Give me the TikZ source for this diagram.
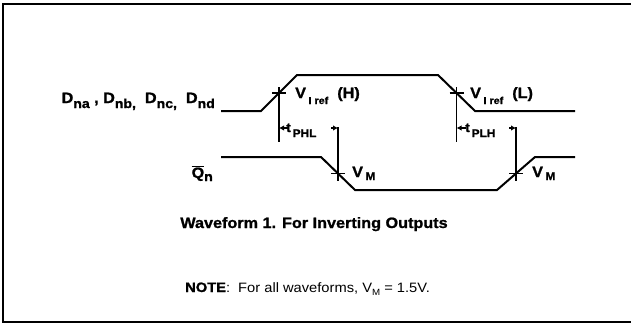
\documentclass[tikz,border=0pt]{standalone}
\usepackage{fontspec}
\setmainfont[FakeStretch=1.08, BoldFeatures={FakeBold=1.2}]{Liberation Sans}
\usetikzlibrary{arrows.meta,calc}
\newcommand\lsub[3]{\raisebox{-#2pt}{\fontsize{#1}{#1}\selectfont #3}}
\begin{document}
\begin{tikzpicture}[x=1pt,y=-1pt,
  wave/.style={line width=2pt, line join=miter},
  xmark/.style={line width=1.6pt},
  framel/.style={line width=1.5pt},
  big/.style={font=\bfseries\fontsize{15}{15}\selectfont, inner sep=0pt},
  tarrow/.style={line width=1.3pt, -{Latex[length=5pt,width=5.5pt]}}]
\useasboundingbox (0,0) rectangle (631,324);
% frame
\coordinate (fa) at (633,4);
\coordinate (fb) at (3,4);
\coordinate (fc) at (3,322);
\coordinate (fd) at (633,322);
\draw[framel] (fa) -- (fb) -- (fc) -- (fd);
% D waveform
\coordinate (d0) at (221,111);
\coordinate (d1) at (261,111);
\coordinate (d2) at (297,75);
\coordinate (d3) at (438,75);
\coordinate (d4) at (475,111);
\coordinate (d5) at (575,111);
\draw[wave] (d0) -- (d1) -- (d2) -- (d3) -- (d4) -- (d5);
\coordinate (dx1) at ($(d1)!0.5!(d2)$);
\coordinate (dx2) at ($(d3)!0.5!(d4)$);
% Q waveform
\coordinate (q0) at (221,157);
\coordinate (q1) at (321,157);
\coordinate (q2) at (355,190);
\coordinate (q3) at (497,190);
\coordinate (q4) at (535,157);
\coordinate (q5) at (575,157);
\draw[wave] (q0) -- (q1) -- (q2) -- (q3) -- (q4) -- (q5);
\coordinate (qx1) at ($(q1)!0.5!(q2)$);
\coordinate (qx2) at ($(q3)!0.5!(q4)$);
% markers and reference lines
\foreach \p in {dx1,dx2}{
  \draw[xmark] ($(\p)+(-7,0)$) -- ($(\p)+(7,0)$);
  \draw[xmark] ($(\p)+(0,-6)$) -- ($(\p |- 0,142)$);
}
\foreach \p in {qx1,qx2}{
  \draw[xmark] ($(\p)+(-7,0)$) -- ($(\p)+(7,0)$);
  \draw[xmark] ($(\p |- 0,127)$) -- ($(\p)+(0,7)$);
}
% t arrows
\coordinate (ta1) at ($(dx1 |- 0,128)$);
\coordinate (tb1) at ($(qx1 |- 0,128)$);
\coordinate (ta2) at ($(dx2 |- 0,128)$);
\coordinate (tb2) at ($(qx2 |- 0,128)$);
\draw[tarrow] ($(ta1)+(9,0)$) -- (ta1);
\draw[tarrow] ($(tb1)+(-7,0)$) -- (tb1);
\draw[tarrow] ($(ta2)+(9,0)$) -- (ta2);
\draw[tarrow] ($(tb2)+(-7,0)$) -- (tb2);
\node[big, anchor=base west, font=\bfseries\fontsize{13}{13}\selectfont] (tphl) at (286,132) {t\lsub{11}{5}{\,PHL}};
\node[big, anchor=base west, font=\bfseries\fontsize{13}{13}\selectfont] (tplh) at (465,132) {t\lsub{11}{5}{\,PLH}};
% labels
\node[big, anchor=base east] (dlab) at (215,103) {D\lsub{13}{5}{na}\ ,\ D\lsub{13}{5}{nb,}\ \ D\lsub{13}{5}{nc,}\ \ D\lsub{13}{5}{nd}};
\node[big, anchor=base east] (qlab) at (213,178) {$\overline{\hbox{\bfseries\fontsize{15}{15}\selectfont Q}}$\lsub{13}{3}{n}};
\node[big, anchor=base west] (vh) at (295,98) {V\,\lsub{10}{6}{I ref}\ \ (H)};
\node[big, anchor=base west] (vl) at (470,98) {V\,\lsub{10}{6}{I ref}\ \ (L)};
\node[big, anchor=base west] (vm1) at (352,177) {V\,\lsub{11}{3}{M}};
\node[big, anchor=base west] (vm2) at (532,177) {V\,\lsub{11}{3}{M}};
% captions
\node[inner sep=0pt, anchor=base, font=\bfseries\fontsize{15}{15}\selectfont] (cap) at (314,228) {Waveform 1. For Inverting Outputs};
\node[inner sep=0pt, anchor=base west, font=\fontsize{13.6}{13.6}\selectfont] (note) at (185,292) {\textbf{NOTE}:\ \ For all waveforms, V\lsub{9}{3}{M} = 1.5V.};
\end{tikzpicture}
\end{document}
